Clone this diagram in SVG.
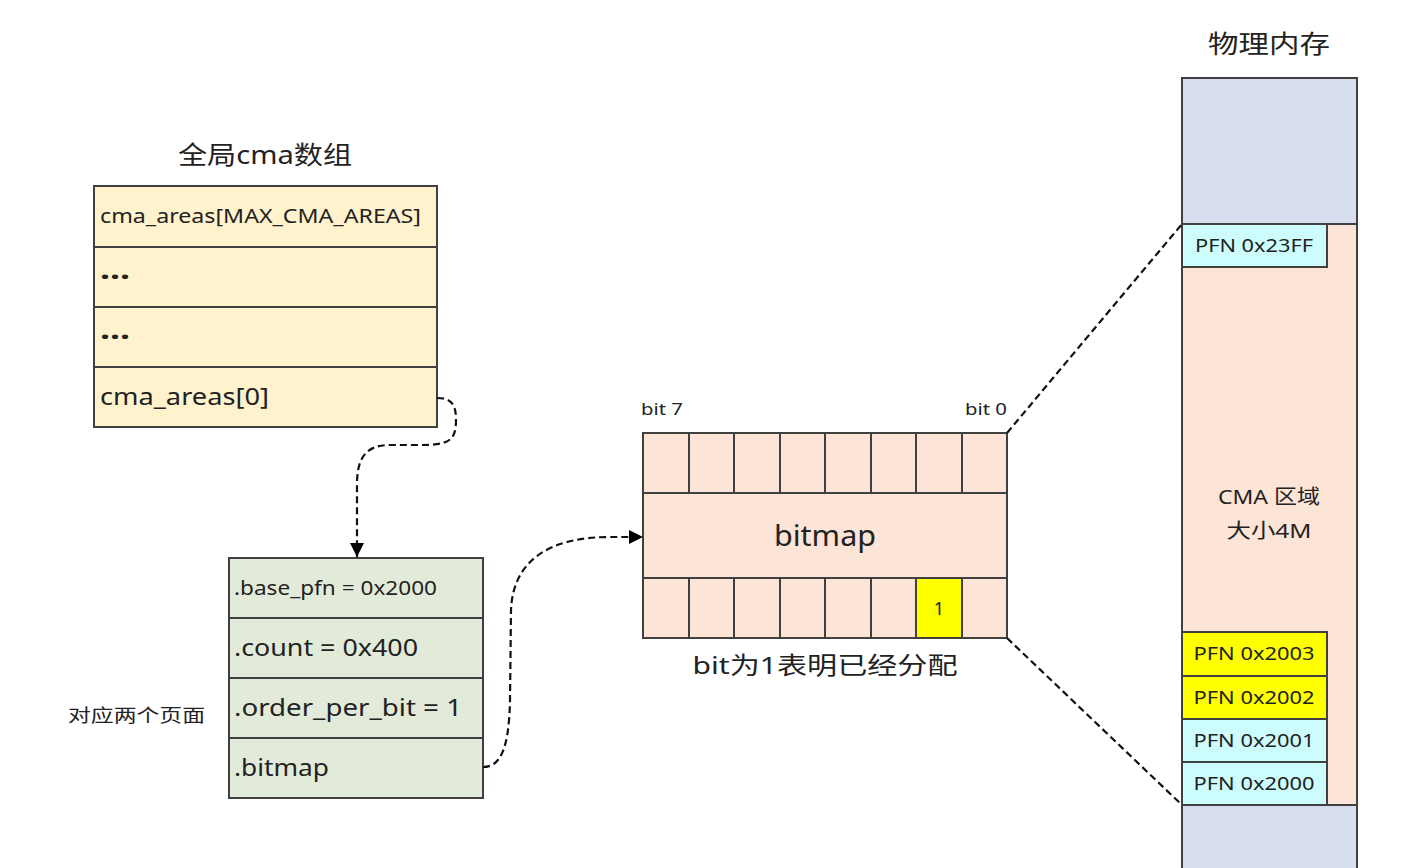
<svg xmlns="http://www.w3.org/2000/svg" width="1424" height="868" viewBox="0 0 1424 868">
<defs>
<marker id="arr" viewBox="0 0 10 10" refX="10" refY="5" markerWidth="14" markerHeight="14" markerUnits="userSpaceOnUse" orient="auto">
<path d="M0,0 L10,5 L0,10 Z" fill="#000"/>
</marker>
<style>
.t{font-family:"Noto Sans","Noto Sans CJK SC",sans-serif;fill:#222;}
.box{stroke:#404040;stroke-width:2;}
.y1{fill:#fff2cc;}
.g1{fill:#e2ebda;}
.pk{fill:#fce4d6;}
.bl{fill:#d7dfee;}
.cy{fill:#cdfcfd;}
.ye{fill:#ffff00;}
.dash{fill:none;stroke:#111;stroke-width:2.2;stroke-dasharray:7 4;}
</style>
</defs>
<rect width="1424" height="868" fill="#fff"/>

<g id="global-cma">
<text class="t" x="265" y="164" font-size="25" text-anchor="middle" textLength="174" lengthAdjust="spacingAndGlyphs">全局cma数组</text>
<rect class="box y1" x="94" y="186" width="343" height="61"/>
<rect class="box y1" x="94" y="247" width="343" height="60"/>
<rect class="box y1" x="94" y="307" width="343" height="60"/>
<rect class="box y1" x="94" y="367" width="343" height="60"/>
<text class="t" x="100" y="223" font-size="19" textLength="321" lengthAdjust="spacingAndGlyphs">cma_areas[MAX_CMA_AREAS]</text>
<text class="t" x="100" y="279" font-size="26" font-weight="bold" textLength="30" lengthAdjust="spacingAndGlyphs">...</text>
<text class="t" x="100" y="339" font-size="26" font-weight="bold" textLength="30" lengthAdjust="spacingAndGlyphs">...</text>
<text class="t" x="100" y="405" font-size="23" textLength="169" lengthAdjust="spacingAndGlyphs">cma_areas[0]</text>
</g>

<g id="cma-struct">
<rect class="box g1" x="229" y="558" width="254" height="60"/>
<rect class="box g1" x="229" y="618" width="254" height="60"/>
<rect class="box g1" x="229" y="678" width="254" height="60"/>
<rect class="box g1" x="229" y="738" width="254" height="60"/>
<text class="t" x="234" y="595" font-size="20" textLength="203" lengthAdjust="spacingAndGlyphs">.base_pfn = 0x2000</text>
<text class="t" x="234" y="656" font-size="23" textLength="184" lengthAdjust="spacingAndGlyphs">.count = 0x400</text>
<text class="t" x="234" y="716" font-size="23" textLength="228" lengthAdjust="spacingAndGlyphs">.order_per_bit = 1</text>
<text class="t" x="234" y="776" font-size="23" textLength="95" lengthAdjust="spacingAndGlyphs">.bitmap</text>
</g>

<g id="note">
<text class="t" x="68" y="722" font-size="18" textLength="137" lengthAdjust="spacingAndGlyphs">对应两个页面</text>
</g>

<g id="bitmap">
<text class="t" x="641" y="415" font-size="16" textLength="42" lengthAdjust="spacingAndGlyphs">bit 7</text>
<text class="t" x="965" y="415" font-size="16" textLength="42" lengthAdjust="spacingAndGlyphs">bit 0</text>
<rect class="box pk" x="643" y="433" width="364" height="60"/>
<rect class="box pk" x="643" y="493" width="364" height="85"/>
<rect class="box pk" x="643" y="578" width="364" height="60"/>
<rect class="box ye" x="916" y="578" width="46" height="60"/>
<path d="M689,433V493M734,433V493M780,433V493M825,433V493M871,433V493M916,433V493M962,433V493M689,578V638M734,578V638M780,578V638M825,578V638M871,578V638" stroke="#404040" stroke-width="2" fill="none"/>
<text class="t" x="825" y="546" font-size="29" text-anchor="middle" textLength="102" lengthAdjust="spacingAndGlyphs">bitmap</text>
<text class="t" x="939" y="615" font-size="18" text-anchor="middle">1</text>
<text class="t" x="825" y="674" font-size="24" text-anchor="middle" textLength="265" lengthAdjust="spacingAndGlyphs">bit为1表明已经分配</text>
</g>

<g id="phys-mem">
<text class="t" x="1269" y="53" font-size="25" text-anchor="middle" textLength="122" lengthAdjust="spacingAndGlyphs">物理内存</text>
<rect class="box bl" x="1182" y="78" width="175" height="146"/>
<rect class="box pk" x="1182" y="224" width="175" height="581"/>
<rect class="box bl" x="1182" y="805" width="175" height="75"/>
<rect class="box cy" x="1182" y="224" width="145" height="43"/>
<text class="t" x="1254" y="252" font-size="18" text-anchor="middle" textLength="118" lengthAdjust="spacingAndGlyphs">PFN 0x23FF</text>
<text class="t" x="1269" y="504" font-size="20" text-anchor="middle" textLength="102" lengthAdjust="spacingAndGlyphs">CMA 区域</text>
<text class="t" x="1269" y="538" font-size="20" text-anchor="middle" textLength="85" lengthAdjust="spacingAndGlyphs">大小4M</text>
<rect class="box ye" x="1182" y="632" width="145" height="44"/>
<rect class="box ye" x="1182" y="676" width="145" height="43"/>
<rect class="box cy" x="1182" y="719" width="145" height="43"/>
<rect class="box cy" x="1182" y="762" width="145" height="43"/>
<text class="t" x="1254" y="660" font-size="18" text-anchor="middle" textLength="121" lengthAdjust="spacingAndGlyphs">PFN 0x2003</text>
<text class="t" x="1254" y="704" font-size="18" text-anchor="middle" textLength="121" lengthAdjust="spacingAndGlyphs">PFN 0x2002</text>
<text class="t" x="1254" y="747" font-size="18" text-anchor="middle" textLength="121" lengthAdjust="spacingAndGlyphs">PFN 0x2001</text>
<text class="t" x="1254" y="790" font-size="18" text-anchor="middle" textLength="121" lengthAdjust="spacingAndGlyphs">PFN 0x2000</text>
</g>

<g id="connectors">
<path class="dash" d="M437,398 C452,398 456,405 456,420 C456,440 450,445 420,445 L390,445 C364,445 357,460 357,485 L357,557" marker-end="url(#arr)"/>
<path class="dash" d="M483,767 C500,767 509,750 510,700 L511,610 C513,560 550,537 610,537 L643,537" marker-end="url(#arr)"/>
<path class="dash" d="M1007,433 L1182,224"/>
<path class="dash" d="M1007,638 L1182,805"/>
</g>
</svg>
